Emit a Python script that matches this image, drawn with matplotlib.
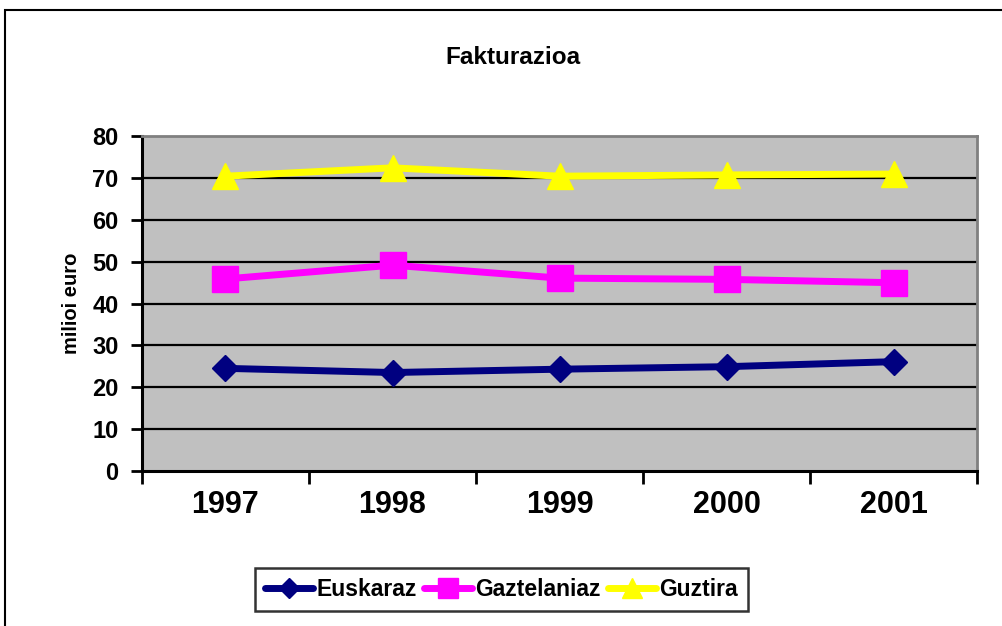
import matplotlib
matplotlib.use("Agg")
import matplotlib.pyplot as plt
from matplotlib.patches import Rectangle

years = ["1997", "1998", "1999", "2000", "2001"]
euskaraz = [24.5, 23.5, 24.3, 24.9, 26.1]
gaztelaniaz = [45.9, 49.2, 46.1, 45.8, 45.0]
guztira = [70.5, 72.5, 70.5, 70.8, 71.0]
yticks = [0, 10, 20, 30, 40, 50, 60, 70, 80]

plt.rcParams['font.family'] = ['Liberation Sans', 'DejaVu Sans']
plt.rcParams['font.weight'] = 'bold'

W, H = 1003, 626
fig = plt.figure(figsize=(W / 100, H / 100), dpi=100)
fig.patch.set_facecolor('white')

# outer chart frame (extends past right/bottom edges)
fig.patches.append(Rectangle((5 / W, -0.1), 1.2, (H - 10) / H + 0.1,
                             transform=fig.transFigure, fill=False,
                             edgecolor='black', linewidth=1.5, zorder=0))

left, right, top, bottom = 142, 977, 136.5, 470.7
ax = fig.add_axes([left / W, 1 - bottom / H, (right - left) / W, (bottom - top) / H])
ax.set_facecolor('#C0C0C0')

x = list(range(1, len(years) + 1))
ax.plot(x, euskaraz, color='#000080', linewidth=5, marker='D', markersize=13,
        label='Euskaraz', zorder=3, solid_capstyle='round')
ax.plot(x, gaztelaniaz, color='#FF00FF', linewidth=5, marker='s', markersize=19,
        label='Gaztelaniaz', zorder=3, solid_capstyle='round')
ax.plot(x, guztira, color='#FFFF00', linewidth=5, marker='^', markersize=19,
        label='Guztira', zorder=3, solid_capstyle='round')

ax.set_xlim(0.5, len(years) + 0.5)
ax.set_ylim(0, 80)
ax.set_yticks(yticks)
ax.set_yticklabels([str(v) for v in yticks], fontsize=17, fontweight='bold')
for v in yticks[1:-1]:
    ax.axhline(v, color='black', linewidth=1.6, zorder=1)

# x: ticks between categories, labels at categories
ax.set_xticks([i + 0.5 for i in range(0, len(years) + 1)])
ax.set_xticklabels([])
ax.set_xticks(x, minor=True)
ax.set_xticklabels(years, minor=True, fontsize=22, fontweight='bold')
ax.tick_params(axis='x', which='minor', length=0, pad=14)
ax.tick_params(axis='x', which='major', direction='out', length=9, width=2, color='black')
ax.tick_params(axis='y', direction='out', length=8, width=2, color='black', pad=9)

for side in ['left', 'bottom']:
    ax.spines[side].set_color('black')
    ax.spines[side].set_linewidth(2.2)
for side in ['top', 'right']:
    ax.spines[side].set_color('#808080')
    ax.spines[side].set_linewidth(2)

ax.set_ylabel('milioi euro', fontsize=14.5, fontweight='bold', labelpad=8)

fig.text(513 / W, 1 - 57 / H, 'Fakturazioa', ha='center', va='center',
         fontsize=17.5, fontweight='bold')

leg = fig.legend(loc='center', bbox_to_anchor=(501.5 / W, 1 - 589.5 / H), ncol=3,
                 frameon=True, fancybox=False, edgecolor='black',
                 prop={'weight': 'bold', 'size': 16.5}, handlelength=2.1,
                 columnspacing=0.3, handletextpad=0.15, borderpad=0.45,
                 borderaxespad=0, markerscale=0.75)
leg.get_frame().set_linewidth(1.8)

fig.savefig('out.png', dpi=100)
